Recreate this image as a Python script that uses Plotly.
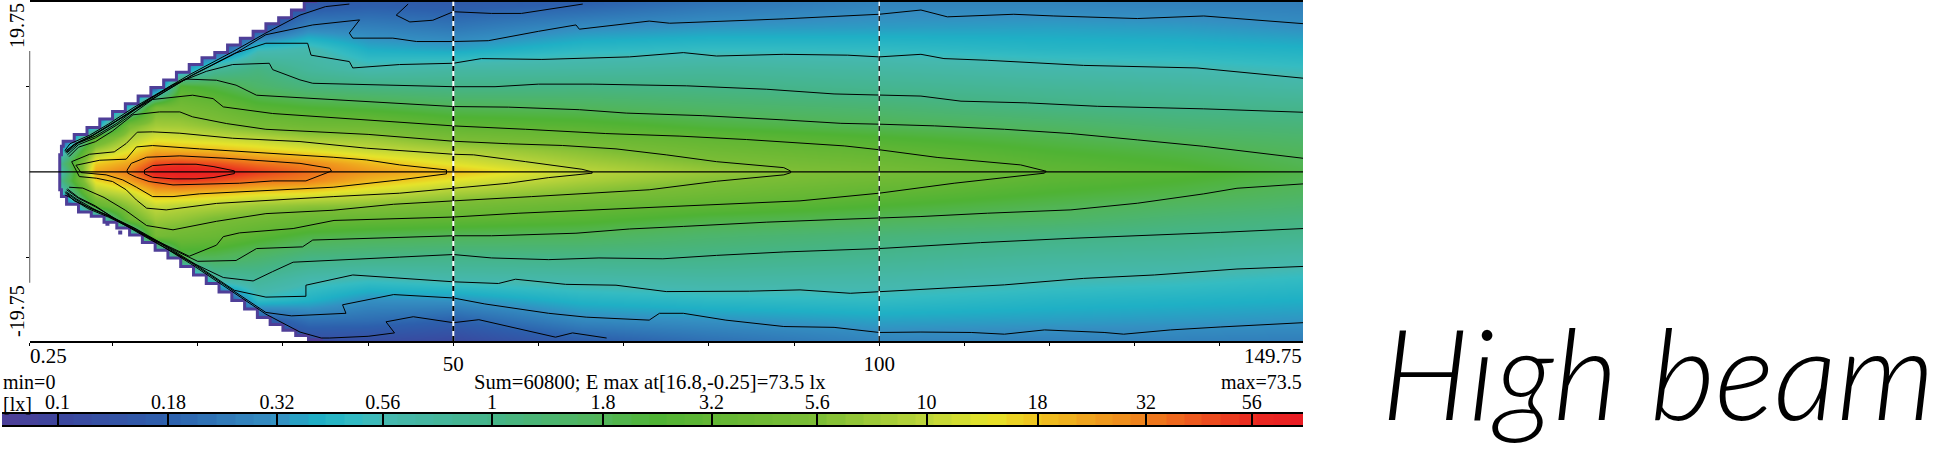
import numpy as np
import plotly.graph_objects as go

WIDTH, HEIGHT = 1957, 449

# grid stations in metres, illuminance in lux, one list per column
grid_y = [19.75, 17, 14.5, 12, 10, 7.5, 5.5, 4, 2.5, 1, 0, -1, -2.5, -4, -5.5, -7.5, -10, -12.5, -15, -17.5, -19.75]
grid_x = [4, 8, 12, 15, 18, 22, 27, 33, 40, 50, 65, 80, 100, 120, 135, 149.75]
lux_x4 = [.1, .1, .1, .1, .1, .1, .1, .1, .4, 1, .6, 1, .4, .1, .1, .1, .1, .1, .1, .1, .1]
lux_x8 = [.1, .1, .1, .1, .1, .1, .3, 3, 8, 17, 23, 15, 7.8, 3, .3, .1, .1, .1, .1, .1, .1]
lux_x12 = [.1, .1, .1, .1, .1, .5, 5.2, 8.8, 14, 24, 33, 24, 11, 6.7, 4.3, .3, .1, .1, .1, .1, .1]
lux_x15 = [.1, .1, .1, .1, .15, 5, 8, 12.5, 22, 46, 65, 42, 20, 11, 7.7, 4.9, .15, .1, .1, .1, .1]
lux_x18 = [.1, .1, .1, .3, 2.6, 4.9, 7.8, 11.8, 21, 50, 73, 50, 20, 9.8, 7, 4.2, 1.8, .15, .1, .1, .1]
lux_x22 = [.1, .1, .15, .8, 2.1, 4, 6.5, 10.8, 20, 45, 68, 45, 18, 9, 5.5, 3.8, 1.75, .7, .1, .1, .1]
lux_x27 = [.1, .15, .5, 1.1, 1.45, 2.8, 5, 9.5, 17, 35, 50, 35, 15, 7.5, 4.7, 2.8, 1.4, .8, .5, .15, .1]
lux_x33 = [.15, .28, .58, .75, 1.15, 2.4, 4.3, 7.6, 14, 30, 36, 31, 14, 6.5, 3.8, 2.1, 1.05, .6, .42, .22, .12]
lux_x40 = [.17, .27, .39, .6, 1.05, 2.2, 4.2, 7.2, 11, 20, 26, 20, 11, 6.2, 3.5, 1.9, 1, .54, .32, .21, .12]
lux_x50 = [.16, .24, .36, .68, 1, 1.85, 3.1, 5.1, 8.8, 13.5, 19, 13.5, 8, 4.9, 3.2, 1.77, .97, .6, .33, .18, .11]
lux_x65 = [.18, .31, .46, .7, 1.05, 1.73, 2.75, 4, 6.2, 8.3, 10, 8.5, 5.8, 3.7, 2.7, 1.7, 1, .63, .43, .29, .17]
lux_x80 = [.23, .34, .49, .75, 1, 1.5, 2.2, 3.15, 4.3, 6, 7.2, 6, 4.3, 3.05, 2.1, 1.4, .98, .67, .47, .32, .22]
lux_x100 = [.28, .35, .48, .68, .88, 1.32, 1.83, 2.45, 3.25, 4.2, 5, 4.2, 3.15, 2.4, 1.8, 1.2, .87, .63, .49, .36, .28]
lux_x120 = [.28, .36, .44, .6, .78, 1.07, 1.55, 1.98, 2.4, 2.9, 3.2, 2.9, 2.35, 1.9, 1.55, 1.05, .75, .57, .44, .35, .27]
lux_x135 = [.27, .35, .43, .57, .73, .98, 1.3, 1.63, 2.05, 2.4, 2.7, 2.4, 2, 1.6, 1.26, .97, .72, .54, .42, .34, .27]
lux_x150 = [.26, .32, .41, .52, .66, .93, 1.2, 1.42, 1.68, 1.85, 2, 1.87, 1.6, 1.35, 1.1, .9, .63, .49, .4, .33, .26]
lux_columns = [lux_x4, lux_x8, lux_x12, lux_x15, lux_x18, lux_x22, lux_x27, lux_x33, lux_x40, lux_x50,
               lux_x65, lux_x80, lux_x100, lux_x120, lux_x135, lux_x150]

# outline of the lit cone
cone_top_x = [3.8, 4, 4.2, 5.5, 7, 8.5, 10, 11.5, 13, 14.5, 16, 17.5, 19, 20.5, 22, 23.5, 25, 26.5, 28, 29.5, 31, 32.5, 34]
cone_top_y = [0, 2, 3, 3.6, 4.4, 5.2, 6.2, 7.1, 8, 8.9, 9.9, 10.8, 11.7, 12.6, 13.4, 14, 14.9, 15.7, 16.5, 17.4, 18.1, 19, 20]
cone_bot_x = [3.8, 4, 4.6, 6, 7.5, 9, 10.5, 12, 13.5, 15, 16.5, 18, 19.5, 21, 22.5, 24, 25.5, 27, 28.5, 30, 31.5, 33, 34.5, 36]
cone_bot_y = [0, -2.1, -2.9, -3.8, -4.7, -5.2, -5.9, -6.6, -7.4, -8.3, -9.2, -10.1, -11.1, -12.1, -13.1, -14.1, -15.1, -16.1, -17.1, -17.9, -18.6, -19.2, -19.7, -20]
stray_x = [9.4, 10.9]
stray_y = [-6.1, -7.1]

# isolux lines, one pair of lists per branch
x_56 = [13.75, 14.7, 17.1, 19.8, 21.8, 24.3, 24.3, 21.8, 19.8, 17.1, 14.7, 13.75, 13.75]
y_56 = [.23, .74, .9, .9, .63, .12, -.2, -.67, -.82, -.82, -.63, -.23, .23]
x_32 = [11.7, 12.2, 14, 17.9, 23.3, 27.3, 32, 35.5, 35.7, 32.7, 28.8, 24.9, 17.1, 14.3, 12.8, 11.8, 11.7]
y_32 = [.2, 1, 1.72, 1.88, 1.6, 1.33, 1, .43, .1, -1.06, -1.06, -1.33, -1.53, -1.13, -.63, -.16, .2]
x_18 = [5.7, 8.5, 11.6, 12.8, 14.7, 20.2, 35.9, 39.8, 43.7, 49.2, 49.2, 43.7, 35.9, 28, 20.2, 17.1, 14.7, 12.8, 11.2, 9.25, 6.3, 5.7]
y_18 = [.78, 1.37, 1.49, 2.93, 3.09, 2.7, 1.72, 1.41, .82, .23, -.23, -.94, -1.8, -2.2, -2.58, -2.9, -2.9, -1.8, -.94, -.35, -.08, .78]
x_10 = [5.2, 7.3, 10.2, 11.6, 12.9, 14.7, 17.9, 24.1, 32, 39.8, 50, 52.4, 58.5, 61.2, 65.1, 66.3, 66.3, 64.4, 61.2, 56.5, 50, 43.7, 35.9, 28, 22.2, 16.3, 14, 12.8, 11.6, 10, 8.1, 6.1, 5.2]
y_10 = [1.2, 2.07, 2.35, 3.33, 4.66, 4.7, 4.54, 3.95, 3.56, 2.78, 2.07, 2, 1.2, .82, .31, 0, -.15, -.35, -.67, -1.33, -1.95, -2.5, -2.9, -3.4, -3.7, -4.46, -4.26, -3.3, -2.1, -1.13, -.74, -.55, 1.2]
x_5_6 = [4.9, 6, 8, 10, 12.4, 15.5, 17.9, 19.4, 23.4, 28, 40, 50, 56.5, 62.8, 69.1, 75, 80.9, 88.8, 89.6, 89.6, 88.8, 80.9, 73, 64.8, 59.2, 50, 43, 35.9, 28, 22.2, 17.1, 14, 11.5, 9, 6.5, 4.9]
y_5_6 = [1.8, 2.9, 3.55, 4.8, 6.7, 7.04, 7.04, 6.46, 5.67, 5, 4.4, 3.6, 3.3, 3.1, 2.7, 2, 1.2, .5, .1, -.1, -.35, -1.1, -2.1, -2.6, -2.9, -3.4, -3.8, -4.5, -4.9, -5.8, -6.8, -6.3, -4.5, -3, -1.9, -1.8]
x_3_2 = [4.7, 6, 8, 10.5, 14.7, 19.4, 21.8, 23, 28.8, 50, 58.5, 67.9, 76.6, 84.4, 95.9, 100, 106.8, 112.7, 116.6, 119.6, 119.4, 108.8, 100, 90.7, 83.7, 75, 66.7, 57.7, 50, 36, 31.2, 24.9, 23, 22.2, 19, 15, 11, 8, 6, 4.7]
y_3_2 = [2, 3.2, 4, 5.5, 8.5, 9, 8.6, 7.63, 6.85, 5.4, 5, 4.5, 4.2, 3.8, 3.05, 2.6, 1.7, 1.13, .82, .08, -.15, -1.33, -2.5, -3.4, -3.7, -4.07, -4.46, -4.85, -5.3, -5.7, -6.65, -7.16, -7.6, -8.6, -9.9, -8, -6, -4, -3, -2]
x_1_8_up = [4.6, 6, 8, 10.5, 14.2, 18.5, 22.2, 24.5, 26.9, 35.9, 50, 56.5, 64.8, 70.3, 79.3, 88.8, 95.5, 100, 106.5, 114.7, 122.5, 130.3, 138.1, 149.75]
y_1_8_up = [2.2, 3.4, 4.2, 5.7, 8.5, 10.9, 10.76, 10.18, 9, 8.45, 7.67, 7.6, 7.3, 6.9, 6.6, 6.1, 5.7, 5.6, 5.4, 5, 4.5, 3.76, 3, 1.6]
x_1_8_dn = [4.6, 6, 8, 11, 15, 20, 24.5, 26.9, 32.3, 33.5, 50, 54.5, 64.4, 70.7, 77, 86.8, 94.7, 100, 104.9, 112.7, 122.5, 130.3, 138.1, 142, 149.75]
y_1_8_dn = [-2.1, -3.1, -4.1, -5.9, -8.1, -10.5, -10.4, -9, -8.8, -8, -7.5, -7.5, -7.2, -6.7, -6.4, -5.9, -5.6, -5.44, -5.24, -4.85, -4.46, -3.68, -2.58, -1.92, -1.41]
x_1_up = [4.5, 5.8, 7.7, 10, 13.5, 17, 21, 24.1, 28.4, 28.8, 32, 33.5, 50, 54.9, 60, 66.3, 77.4, 86.8, 94.7, 100, 104.9, 109.6, 117.4, 125.6, 138.1, 149.75]
y_1_up = [2.3, 3.4, 4.3, 5.7, 8, 10.2, 11.8, 12.6, 12.75, 12, 10.8, 10.4, 10, 10, 10.3, 10.3, 10.1, 9.7, 9.15, 9, 8.9, 8.3, 8.1, 7.7, 7.4, 7]
x_1_dn = [4.5, 5.8, 7.7, 10.5, 14.5, 19, 23, 26.5, 28.8, 31.2, 43.7, 50, 54.5, 61.2, 67.1, 74.6, 80.9, 88.8, 100, 104.9, 111.9, 122.5, 130.3, 140.1, 149.75]
y_1_dn = [-2.3, -3.2, -4.3, -5.7, -8, -10.5, -12.4, -12.8, -11.7, -10.6, -10, -9.7, -10.1, -10.3, -10.1, -10.2, -9.8, -9.4, -9, -8.7, -8.3, -7.8, -7.5, -7.1, -6.65]
x_056_up = [4.4, 5.6, 7.5, 9.7, 12.6, 15.8, 19.4, 24.3, 28, 32.9, 33.3, 37.8, 38.2, 43.7, 50, 53.3, 60.4, 70.7, 77, 80.9, 88.8, 96.3, 100, 104.9, 107.6, 112.7, 124, 137.3, 149.75]
y_056_up = [2.4, 3.3, 4.2, 5.5, 7.3, 9.2, 11.4, 13.9, 15.1, 15.1, 13.7, 12.95, 12.2, 12.6, 12.75, 13.3, 13.2, 13.5, 14, 13.6, 13.8, 13.7, 13.5, 13.8, 13.3, 13.1, 12.5, 12.2, 11]
x_056_dn = [4.4, 5.5, 7.3, 9.7, 12.6, 15.8, 19.5, 24.3, 28, 32.7, 32.7, 38.2, 50, 55.3, 57.3, 63.2, 69.1, 75, 84.8, 90.7, 96.6, 100, 106.8, 114.7, 124, 132.3, 142, 149.75]
y_056_dn = [-2.4, -3.4, -4.2, -5.2, -6.6, -8.4, -10.7, -13.9, -14.7, -14.6, -13.3, -12.1, -12.9, -13.1, -12.6, -13.2, -13.3, -14.05, -14, -13.85, -14.25, -14.05, -13.65, -13.26, -12.5, -12.1, -11.4, -11.1]
x_032_up = [4.6, 5.3, 7.4, 9.6, 12.5, 15.6, 19.3, 24.2, 28, 33.5, 39, 37.8, 38.2, 42.9, 45.7, 50, 54.1, 60, 64.4, 64.8, 73, 75.4, 80.9, 88.8, 100, 104.9, 108, 115.8, 120.5, 130.3, 138.1, 149.75]
y_032_up = [2.3, 3.1, 4.1, 5.4, 7.3, 9.1, 11.3, 13.8, 16.1, 17.25, 17.84, 16.3, 15.7, 15.7, 15.3, 15.3, 15.4, 16.5, 17.25, 16.75, 17.7, 17.45, 17.65, 17.96, 18.5, 19, 18.2, 18.5, 18.3, 18, 18.3, 17.4]
x_032_dn = [4.6, 5.3, 7.2, 9.6, 12.5, 15.6, 19.3, 24.2, 28, 31, 33.9, 37.4, 37, 43, 50, 53.7, 61.2, 65.6, 73, 74.2, 77, 82, 88.8, 94.7, 100, 104.9, 110.8, 114.7, 119.4, 126.4, 128.7, 134.2, 140.1, 149.75]
y_032_dn = [-2.5, -3, -4.2, -5.2, -6.6, -8.4, -10.7, -14, -16.5, -16.9, -16.8, -16.6, -15.6, -14.4, -14.8, -15.5, -16.6, -17.05, -17.4, -16.6, -16.6, -17.4, -18.15, -18.25, -18.85, -18.8, -18.85, -19.05, -18.55, -18.85, -19.05, -18.55, -18.2, -17.7]
x_018_up = [4.4, 5, 7.3, 9.5, 12.4, 15.5, 19.2, 24.1, 28, 32, 35, 37.8]
y_018_up = [2.5, 3.3, 4.3, 5.6, 7.5, 9.3, 11.5, 14.1, 16.3, 18.4, 19.4, 19.7]
x_018_up2 = [44.7, 43.3, 44.9, 47.6, 50, 54.5, 58, 65.2]
y_018_up2 = [19.7, 18.4, 17.6, 17.8, 18.8, 18.6, 18.6, 19.7]
x_018_dn = [4.4, 5, 7.1, 9.5, 12.4, 15.5, 19.2, 24.1, 28, 32, 34.5, 35.5, 40, 43.1]
y_018_dn = [-2.7, -3, -4.3, -5.3, -6.7, -8.5, -10.8, -14.1, -16.7, -18.8, -19.5, -19.5, -19.3, -18.9]
x_018_dn2 = [43.1, 42.1, 45.3, 50, 53, 57.3, 62, 64, 68]
y_018_dn2 = [-18.9, -17.6, -17, -17.7, -17.35, -18.35, -19.4, -18.9, -19.5]

iso_lines = [(x_56, y_56), (x_32, y_32), (x_18, y_18), (x_10, y_10), (x_5_6, y_5_6), (x_3_2, y_3_2),
             (x_1_8_up, y_1_8_up), (x_1_8_dn, y_1_8_dn), (x_1_up, y_1_up), (x_1_dn, y_1_dn),
             (x_056_up, y_056_up), (x_056_dn, y_056_dn), (x_032_up, y_032_up), (x_032_dn, y_032_dn),
             (x_018_up, y_018_up), (x_018_up2, y_018_up2), (x_018_dn, y_018_dn), (x_018_dn2, y_018_dn2)]

# legend bar
scale_lux = [.0745, .1, .18, .32, .4, .5, .56, 1, 1.8, 2.4, 3.2, 5.6, 10, 14, 18, 32, 56, 73.5]
scale_colors = ['#4f3f98', '#3c459d', '#2d60ad', '#3490c2', '#1fb0c5', '#35bcc2', '#45b8b0', '#45b488', '#52b558',
                '#4fb334', '#62b634', '#7cbd35', '#bdd53a', '#e6e42a', '#efc31f', '#ef7f1c', '#ea2a20', '#ea1c24']
bar_lux = [.078, .086, .095, .104, .114, .126, .138, .152, .167, .184, .2, .22, .245, .27, .295, .325, .36, .395,
           .435, .48, .525, .58, .635, .7, .77, .85, .93, 1.02, 1.13, 1.24, 1.36, 1.5, 1.65, 1.8, 2, 2.2, 2.4, 2.65,
           2.9, 3.2, 3.5, 3.85, 4.2, 4.65, 5.1, 5.6, 6.2, 6.8, 7.5, 8.2, 9, 9.9, 10.9, 12, 13.2, 14.5, 16, 17.5,
           19.3, 21, 23.3, 25.6, 28, 31, 34, 37.5, 41, 45, 50, 55, 60, 66, 72]
bar_ticks = [.1, .18, .32, .56, 1, 1.8, 3.2, 5.6, 10, 18, 32, 56]
bar_labels = ['0.1', '0.18', '0.32', '0.56', '1', '1.8', '3.2', '5.6', '10', '18', '32', '56']
x_ticks = [0.25, 10, 20, 30, 40, 50, 60, 70, 80, 90, 100, 110, 120, 130, 140]
x_labels = ['', '', '', '', '', '50', '', '', '', '', '100', '', '', '', '']

SERIF = 'Liberation Serif'
log_min, log_max = np.log10(scale_lux[0]), np.log10(scale_lux[-1])
colorscale = [[(np.log10(v) - log_min) / (log_max - log_min), c] for v, c in zip(scale_lux, scale_colors)]


def px_x(p):
    return p / WIDTH


def px_y(p):
    return 1 - p / HEIGHT


fig = go.Figure()
fig.add_trace(go.Heatmap(x=grid_x, y=grid_y, z=np.log10(np.array(lux_columns).T), zsmooth='best',
                         coloraxis='coloraxis', hoverinfo='skip'))

# white outside the cone, stepped purple fringe on its rim
for xs, ys, corner in [(cone_top_x, cone_top_y, 20), (cone_bot_x, cone_bot_y, -20)]:
    fig.add_trace(go.Scatter(x=[0.25] + xs + [0.25], y=[0] + ys + [corner], fill='toself', mode='lines',
                             line=dict(width=0, shape='vh'), fillcolor='white', hoverinfo='skip'))
    fig.add_trace(go.Scatter(x=xs, y=ys, mode='lines', line=dict(color='#4f3f98', width=3, shape='vh'),
                             hoverinfo='skip'))
fig.add_trace(go.Scatter(x=stray_x, y=stray_y, mode='markers', hoverinfo='skip',
                         marker=dict(color='#4f3f98', size=4, symbol='square')))
for xs, ys in iso_lines:
    fig.add_trace(go.Scatter(x=xs, y=ys, mode='lines', line=dict(color='black', width=1), hoverinfo='skip'))

# the scale bar, on axes of its own
fig.add_trace(go.Heatmap(x=bar_lux, y=[0], z=[np.log10(bar_lux).tolist()], coloraxis='coloraxis', hoverinfo='skip',
                         xaxis='x2', yaxis='y2'))

for x_pos, width in [(50, 2), (100, 1.3)]:
    fig.add_shape(type='line', x0=x_pos, x1=x_pos, y0=-19.85, y1=20, line=dict(color='white', width=width))
    fig.add_shape(type='line', x0=x_pos, x1=x_pos, y0=-19.85, y1=20,
                  line=dict(color='black', width=width, dash='5px,5px'))
fig.add_shape(type='line', x0=-0.2, x1=149.75, y0=0, y1=0, line=dict(color='black', width=1.3))
fig.add_shape(type='line', x0=0.25, x1=0.25, y0=-13, y1=14.2, line=dict(color='black', width=1.3))

texts = [
    ('19.75', 17, 26, 'center', 20, -90),
    ('-19.75', 17, 311, 'center', 20, -90),
    ('0.25', 29, 356, 'left', 21, 0),
    ('149.75', 1303, 356, 'right', 21, 0),
    ('min=0', 2, 382, 'left', 20, 0),
    ('Sum=60800; E max at[16.8,-0.25]=73.5 lx', 473, 382, 'left', 20.6, 0),
    ('max=73.5', 1303, 382, 'right', 20, 0),
    ('[lx]', 2, 404, 'left', 20, 0),
]
for text, x_pos, y_pos, anchor, size, angle in texts:
    fig.add_annotation(text=text, x=px_x(x_pos), y=px_y(y_pos), xref='paper', yref='paper', showarrow=False,
                       xanchor=anchor, yanchor='middle', textangle=angle, borderpad=0,
                       font=dict(family=SERIF, size=size, color='black'))
fig.add_annotation(text='<i>High beam</i>', x=px_x(1379), y=px_y(371), xref='paper', yref='paper', showarrow=False,
                   xanchor='left', yanchor='middle', font=dict(family='Lato', size=126, color='black', weight=300))

fig.update_layout(
    width=WIDTH, height=HEIGHT, showlegend=False, paper_bgcolor='white', plot_bgcolor='white',
    margin=dict(l=0, r=0, t=0, b=0, autoexpand=False),
    coloraxis=dict(cmin=log_min, cmax=log_max, colorscale=colorscale, showscale=False),
    xaxis=dict(domain=[px_x(29.5), px_x(1303)], range=[0.25, 149.75], tickvals=x_ticks, ticktext=x_labels,
               ticks='outside', ticklen=3, tickcolor='black', showline=True, linecolor='black', linewidth=1.5,
               mirror=True, showgrid=False, zeroline=False, tickfont=dict(family=SERIF, size=21, color='black')),
    yaxis=dict(domain=[px_y(341), px_y(1.5)], range=[-19.85, 20], tickvals=[-10, 10], ticktext=['', ''],
               ticks='outside', ticklen=3, tickcolor='black', showline=False, showgrid=False, zeroline=False),
    xaxis2=dict(domain=[px_x(2), px_x(1303)], anchor='y2', type='log', range=[log_min, log_max], side='top',
                tickvals=bar_ticks, ticktext=bar_labels, ticks='inside', ticklen=11, tickwidth=1.5, tickcolor='black',
                showline=True, linecolor='black', linewidth=2, mirror=True, showgrid=False, zeroline=False,
                ticklabelstandoff=-5, tickfont=dict(family=SERIF, size=20, color='black')),
    yaxis2=dict(domain=[px_y(425), px_y(414)], anchor='x2', range=[-0.5, 0.5], showticklabels=False, ticks='',
                showgrid=False, zeroline=False),
)

# the page's default body margin would push everything 8px in
fig.write_html("out.html", config={'displayModeBar': False}, post_script="document.body.style.margin = '0';")
